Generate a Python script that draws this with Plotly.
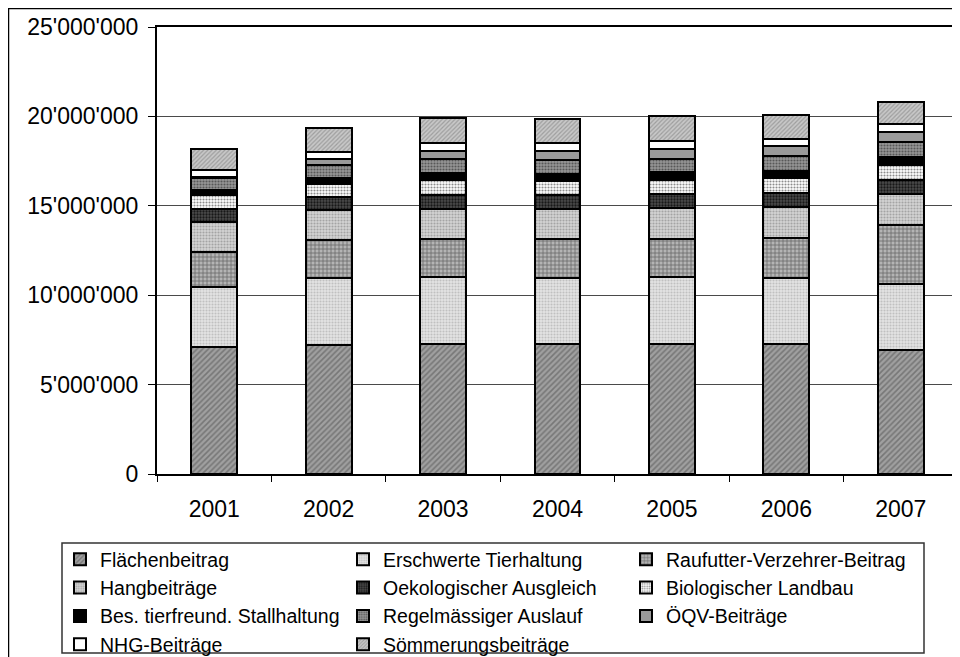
import plotly.graph_objects as go

years = ["2001", "2002", "2003", "2004", "2005", "2006", "2007"]

series_names = [
    "Flächenbeitrag", "Erschwerte Tierhaltung", "Raufutter-Verzehrer-Beitrag",
    "Hangbeiträge", "Oekologischer Ausgleich", "Biologischer Landbau",
    "Bes. tierfreund. Stallhaltung", "Regelmässiger Auslauf", "ÖQV-Beiträge",
    "NHG-Beiträge", "Sömmerungsbeiträge",
]

flaechen = [7090000, 7200000, 7270000, 7270000, 7270000, 7260000, 6960000]
erschwerte = [3380000, 3790000, 3760000, 3720000, 3740000, 3730000, 3680000]
raufutter = [1930000, 2080000, 2130000, 2130000, 2150000, 2190000, 3280000]
hang = [1690000, 1670000, 1680000, 1690000, 1730000, 1730000, 1730000]
oeko = [750000, 750000, 780000, 770000, 760000, 780000, 770000]
bio = [740000, 740000, 800000, 820000, 800000, 840000, 850000]
stall = [280000, 350000, 400000, 390000, 430000, 400000, 440000]
auslauf = [680000, 730000, 770000, 780000, 760000, 840000, 860000]
oeqv = [50000, 290000, 480000, 500000, 540000, 560000, 560000]
nhg = [440000, 390000, 450000, 450000, 430000, 430000, 430000]
soemmerung = [1150000, 1360000, 1380000, 1360000, 1390000, 1340000, 1250000]

values = [flaechen, erschwerte, raufutter, hang, oeko, bio, stall,
          auslauf, oeqv, nhg, soemmerung]

# (background colour, pattern shape, pattern colour, pattern size, solidity)
styles = [
    ("#a0a0a0", "/", "#777777", 4, 0.4),
    ("#e4e4e4", ".", "#c0c0c0", 3, 0.4),
    ("#b4b4b4", "+", "#666666", 4, 0.35),
    ("#d4d4d4", ".", "#a4a4a4", 3, 0.4),
    ("#4c4c4c", ".", "#181818", 3, 0.45),
    ("#ffffff", ".", "#8c8c8c", 3, 0.4),
    ("#000000", "", "#000000", 3, 0.3),
    ("#969696", ".", "#585858", 3, 0.4),
    ("#9a9a9a", "", "#9a9a9a", 3, 0.3),
    ("#ffffff", "", "#ffffff", 3, 0.3),
    ("#c8c8c8", "/", "#9e9e9e", 3, 0.4),
]

FONT = "Liberation Sans, Arial, sans-serif"

fig = go.Figure()
for name, vals, (bg, shape, fg, size, sol) in zip(series_names, values, styles):
    fig.add_trace(go.Bar(
        x=years, y=vals, name=name,
        marker=dict(
            color=bg,
            line=dict(color="#000000", width=2),
            pattern=dict(shape=shape, bgcolor=bg, fgcolor=fg, size=size,
                         solidity=sol, fillmode="replace"),
        ),
    ))

# page has an 8px body margin; figure sized so it fills the 960x657 window
OFF = 8
W, H = 960 - OFF, 657 - OFF
L, T = 157 - OFF, 27 - OFF
PLOT_RIGHT, PLOT_BOTTOM = 958 - OFF, 474 - OFF
R, B = W - PLOT_RIGHT, H - PLOT_BOTTOM
pw, ph = PLOT_RIGHT - L, PLOT_BOTTOM - T


def px_x(x):  # page pixel -> paper fraction
    return (x - OFF - L) / pw


def px_y(y):
    return (PLOT_BOTTOM - (y - OFF)) / ph


fig.update_layout(
    width=W, height=H,
    barmode="stack", bargap=0.6,
    separators=".'",
    paper_bgcolor="white", plot_bgcolor="white",
    margin=dict(l=L, r=R, t=T, b=B, autoexpand=False),
    font=dict(family=FONT, color="#000000", size=23),
    xaxis=dict(
        type="category", showline=True, linecolor="#000000", linewidth=2,
        mirror=True, ticks="outside", tickson="boundaries", ticklen=6,
        tickwidth=1, tickcolor="#000000", showgrid=False,
        tickfont=dict(family=FONT, size=23, color="#000000"),
        ticklabelstandoff=13,
    ),
    yaxis=dict(
        range=[0, 25000000], dtick=5000000, tickformat=",d",
        showline=True, linecolor="#000000", linewidth=2,
        ticks="outside", ticklen=7, tickwidth=1, tickcolor="#000000",
        showgrid=True, gridcolor="#4a4a4a", gridwidth=1, zeroline=False,
        tickfont=dict(family=FONT, size=23, color="#000000"),
        ticklabelstandoff=5,
    ),
    legend=dict(
        orientation="h", traceorder="normal",
        x=px_x(60), xanchor="left", y=px_y(540), yanchor="top",
        entrywidth=238, entrywidthmode="pixels",
        font=dict(family=FONT, size=19.5, color="#000000"),
        bgcolor="rgba(0,0,0,0)", borderwidth=0,
    ),
    shapes=[
        dict(type="rect", xref="paper", yref="paper",
             x0=px_x(8.5), x1=px_x(975), y0=px_y(675), y1=px_y(8.5),
             line=dict(color="#000000", width=1.5), fillcolor="rgba(0,0,0,0)",
             layer="below"),
        dict(type="rect", xref="paper", yref="paper",
             x0=px_x(62), x1=px_x(924), y0=px_y(653), y1=px_y(543),
             line=dict(color="#333333", width=1.5), fillcolor="rgba(0,0,0,0)",
             layer="below"),
    ],
)

fig.write_html("out.html")
